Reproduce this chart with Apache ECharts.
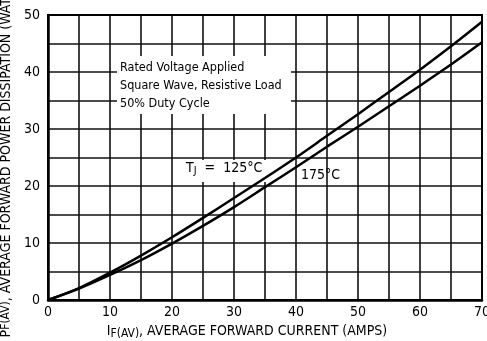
<!DOCTYPE html>
<html>
<head>
<meta charset="utf-8">
<script src="https://cdn.jsdelivr.net/npm/echarts@6/dist/echarts.min.js"></script>
<style>
  html, body { margin: 0; padding: 0; background: #fff; }
  #chart { width: 487px; height: 341px; }
</style>
</head>
<body>
<div id="chart"></div>
<script>
// data
var current = [0, 5, 10, 15, 20, 25, 30, 35, 40, 45, 50, 55, 60, 65, 70];
var power125 = [0, 2.1, 4.8, 7.8, 11.0, 14.4, 17.9, 21.4, 25.0, 28.8, 32.6, 36.5, 40.4, 44.5, 48.8];
var power175 = [0, 2.0, 4.4, 7.0, 9.9, 13.0, 16.3, 19.8, 23.3, 26.9, 30.4, 34.0, 37.6, 41.3, 45.2];
var xTicks = [0, 10, 20, 30, 40, 50, 60, 70];
var yTicks = [0, 10, 20, 30, 40, 50];

var FONT = '"Liberation Sans Narrow", "DejaVu Sans Condensed", "Liberation Sans", Arial, sans-serif';

function pairs(xs, ys) {
    return xs.map(function (x, i) { return [x, ys[i]]; });
}

var chart = echarts.init(document.getElementById('chart'));

var option = {
    backgroundColor: '#fff',
    animation: false,
    grid: { left: 48, right: 5, top: 15, bottom: 41, outerBoundsMode: 'none', containLabel: false },
    xAxis: {
        type: 'value', min: 0, max: 70, interval: 5,
        axisLine: { show: true, onZero: false, lineStyle: { color: '#000', width: 2.5 } },
        axisTick: { show: false },
        splitLine: { show: true, lineStyle: { color: '#111', width: 1.6 } },
        axisLabel: {
            color: '#000', fontSize: 14, fontFamily: FONT, margin: 5,
            formatter: function (v) { return xTicks.indexOf(v) >= 0 ? String(v) : ''; }
        },
        name: 'I{sub|F(AV)}, AVERAGE FORWARD CURRENT (AMPS)',
        nameLocation: 'middle', nameGap: 22,
        nameTextStyle: {
            color: '#000', fontSize: 14, fontFamily: FONT, padding: [0, 36, 0, 0],
            rich: {
                sub: { fontSize: 12, fontFamily: FONT, color: '#000', padding: [5, 0, 0, 0] }
            }
        }
    },
    yAxis: {
        type: 'value', min: 0, max: 50, interval: 5,
        axisLine: { show: true, lineStyle: { color: '#000', width: 2.5 } },
        axisTick: { show: false },
        splitLine: { show: true, lineStyle: { color: '#111', width: 1.6 } },
        axisLabel: {
            color: '#000', fontSize: 14, fontFamily: FONT, margin: 8,
            formatter: function (v) { return yTicks.indexOf(v) >= 0 ? String(v) : ''; }
        },
        name: 'P{sub|F(AV)}, AVERAGE FORWARD POWER DISSIPATION (WATTS)',
        nameLocation: 'middle', nameGap: 34, nameRotate: 90,
        nameTextStyle: {
            color: '#000', fontSize: 14, fontFamily: FONT,
            rich: {
                sub: { fontSize: 12, fontFamily: FONT, color: '#000' }
            }
        }
    },
    series: [
        {
            name: '125', type: 'line', smooth: 0.3, symbol: 'none',
            lineStyle: { color: '#000', width: 2.5 },
            data: pairs(current, power125), z: 5
        },
        {
            name: '175', type: 'line', smooth: 0.3, symbol: 'none',
            lineStyle: { color: '#000', width: 2.5 },
            data: pairs(current, power175), z: 5
        }
    ],
    graphic: [
        // right and top border of the plot
        { type: 'rect', shape: { x: 48, y: 15, width: 434, height: 285 },
          style: { fill: 'none', stroke: '#000', lineWidth: 2 }, z: 4, silent: true },
        { type: 'rect', shape: { x: 117, y: 56, width: 174, height: 58 },
          style: { fill: '#fff' }, z: 3 },
        { type: 'text', left: 120, top: 59, z: 11,
          style: { text: 'Rated Voltage Applied\nSquare Wave, Resistive Load\n50% Duty Cycle',
                   fill: '#000', font: '12.5px ' + FONT, lineHeight: 18 } },
        { type: 'rect', shape: { x: 182, y: 160, width: 84, height: 22 },
          style: { fill: '#fff' }, z: 3 },
        { type: 'text', left: 186, top: 161, z: 11,
          style: { text: 'T{s|J}  =  125°C', fill: '#000', font: '14px ' + FONT,
                   rich: { s: { fontSize: 11, fontFamily: FONT, padding: [6, 0, 0, 0] } } } },
        { type: 'text', left: 301, top: 168, z: 11,
          style: { text: '175°C', fill: '#000', font: '14px ' + FONT } }
    ]
};

chart.setOption(option);
</script>
</body>
</html>
